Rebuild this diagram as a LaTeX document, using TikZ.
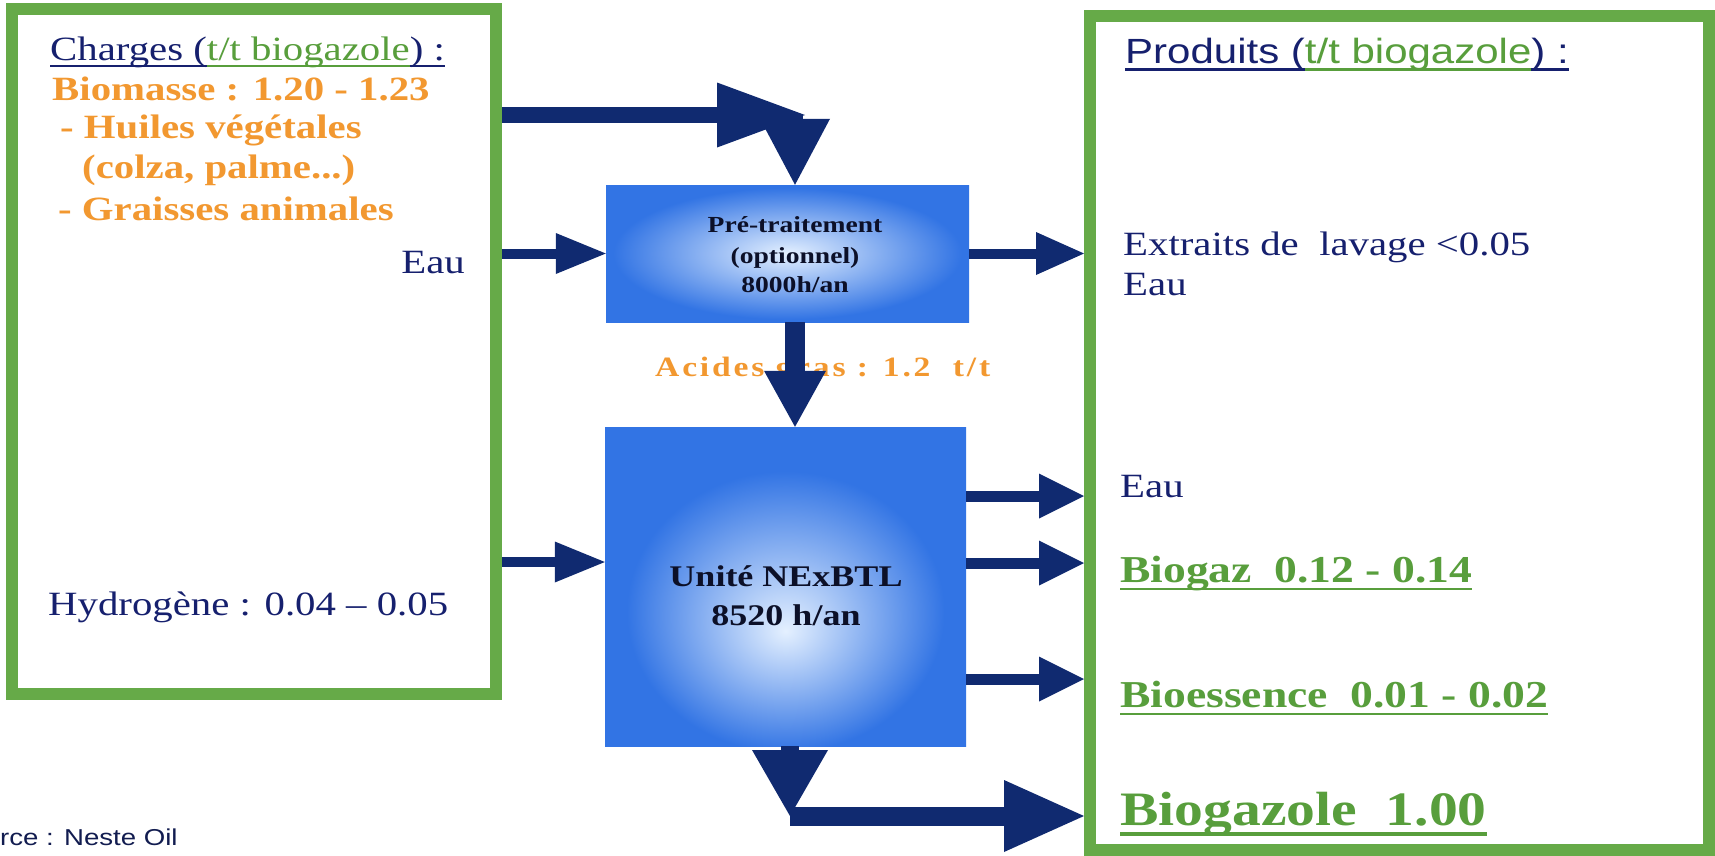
\documentclass[tikz,border=0pt]{standalone}
\usepackage{fontspec}
\setmainfont{Liberation Serif}[FakeStretch=1.2]
\setsansfont{Liberation Sans}[FakeStretch=1.2]
\newfontfamily\spacedfont{Liberation Serif}[FakeStretch=1.2,LetterSpace=10]
\usepackage{tikz}
\usetikzlibrary{
  arrows.meta,
  calc,
  positioning}

\definecolor{framegreen}{RGB}{102,170,72}
\definecolor{textgreen}{RGB}{88,158,60}
\definecolor{textnavy}{RGB}{22,32,110}
\definecolor{sourcenavy}{RGB}{18,28,80}
\definecolor{textorange}{RGB}{242,152,48}
\definecolor{arrowblue}{RGB}{16,42,112}
\definecolor{boxblue}{RGB}{50,116,228}
\definecolor{boxlight}{RGB}{228,240,255}
\definecolor{boxtext}{RGB}{12,16,40}

\pgfdeclareradialshading{preglow}{\pgfpoint{0bp}{0bp}}{color(0bp)=(boxlight); color(24bp)=(boxblue); color(50bp)=(boxblue)}
\pgfdeclareradialshading{nexglow}{\pgfpoint{0bp}{-7bp}}{color(0bp)=(boxlight); color(22bp)=(boxblue); color(50bp)=(boxblue)}

\newcommand{\ulc}[1]{\sbox0{#1}\rlap{\rule[-0.22em]{\wd0}{0.07em}}\usebox0}

\begin{document}
\begin{tikzpicture}[x=1pt,y=-1pt,
    greenframe/.style={draw=framegreen,line width=12pt,fill=white,inner sep=0pt},
    procbox/.style={inner sep=0pt,shading=#1},
    lbl/.style={anchor=base west,inner sep=0pt},
    boxlabel/.style={anchor=base,inner sep=0pt,text=boxtext},
    navytext/.style={text=textnavy,font=\fontsize{34}{40}\selectfont},
    orangebold/.style={text=textorange,font=\bfseries\fontsize{34}{40}\selectfont},
    greenbold/.style={text=textgreen,font=\bfseries\fontsize{38}{46}\selectfont},
    flowarrow/.style args={#1/#2/#3}{draw=arrowblue,line width=#1,
      -{Triangle[length=#2,width=#3,line width=0pt]}}]

\fill[white] (0,0) rectangle (1715,855);
\useasboundingbox (0,0) rectangle (1715,855);

% cadres
\node[greenframe,minimum width=484pt,minimum height=685pt] (lbox) at (254,351.5) {};
\node[greenframe,minimum width=619pt,minimum height=834pt] (rbox) at (1399.5,433) {};

% unites
\node[procbox=preglow,minimum width=363pt,minimum height=137pt] (pre) at (787.5,253.5) {};
\node[procbox=nexglow,minimum width=361pt,minimum height=319pt] (nex) at (785.5,586.5) {};

\node[boxlabel,font=\bfseries\fontsize{23}{30}\selectfont] (pretitle) at (795,232) {Pré-traitement};
\node[boxlabel,font=\bfseries\fontsize{23}{30}\selectfont] (preopt) at (795,263) {(optionnel)};
\node[boxlabel,font=\bfseries\fontsize{23}{30}\selectfont] (prehours) at (795,292) {8000h/an};
\node[boxlabel,font=\bfseries\fontsize{30}{39}\selectfont] (nextitle) at (786,586) {Unité NExBTL};
\node[boxlabel,font=\bfseries\fontsize{30}{39}\selectfont] (nexhours) at (786,625) {8520 h/an};

% charges
\node[lbl,navytext] (chargeshead) at (50,60)
  {\ulc{Charges (}\textcolor{textgreen}{\ulc{t/t biogazole}}\ulc{) :}};
\node[lbl,orangebold] (biomass) at (52,100) {Biomasse : 1.20 - 1.23};
\node[lbl,orangebold] (huiles) at (60,138) {- Huiles végétales};
\node[lbl,orangebold] (colza) at (82,178) {(colza, palme...)};
\node[lbl,orangebold] (graisses) at (58,220) {- Graisses animales};
\node[anchor=base east,inner sep=0pt,navytext] (eauin) at (465,273) {Eau};
\node[lbl,navytext] (hydrogen) at (48,615) {Hydrogène : 0.04 – 0.05};

\node[lbl,text=textorange,font=\spacedfont\bfseries\fontsize{28}{32}\selectfont] (acides) at (655,376) {Acides gras : 1.2\ \ t/t};

% produits
\node[lbl,text=textnavy,font=\sffamily\fontsize{35}{42}\selectfont] (produitshead) at (1125,63)
  {\ulc{Produits (}\textcolor{textgreen}{\ulc{t/t biogazole}}\ulc{) :}};
\node[lbl,navytext] (extraits) at (1123,255) {Extraits de\ \ lavage <0.05};
\node[lbl,navytext] (eauwash) at (1123,295) {Eau};
\node[lbl,navytext] (eauout) at (1120,497) {Eau};
\node[lbl,greenbold] (biogaz) at (1120,582) {\ulc{Biogaz\ \ 0.12 - 0.14}};
\node[lbl,greenbold] (bioessence) at (1120,707) {\ulc{Bioessence\ \ 0.01 - 0.02}};
\node[lbl,greenbold,font=\bfseries\fontsize{48}{56}\selectfont] (biogazole) at (1120,825) {\ulc{Biogazole\ \ 1.00}};

\node[lbl,text=sourcenavy,font=\sffamily\fontsize{23}{28}\selectfont] (source) at (0,845) {rce : Neste Oil};

% fleches
\coordinate (biotip) at (805,115);
\coordinate (biobend) at (795,115);
\coordinate (h2in) at (0,562);
\coordinate (gazbend) at (790,816);

\draw[flowarrow=16pt/88pt/65pt] (lbox.east |- biotip) -- (biotip);
\draw[flowarrow=16pt/66pt/70pt] (biobend) -- (biobend |- pre.north);
\draw[flowarrow=10pt/50pt/41pt] (lbox.east |- pre.west) -- (pre.west);
\draw[flowarrow=10pt/48pt/43pt] (pre.east) -- (rbox.west |- pre.east);
\draw[flowarrow=20pt/56pt/62pt] (pre.south -| biobend) -- (nex.north -| biobend);
\draw[flowarrow=10pt/50pt/41pt] (lbox.east |- h2in) -- (nex.west |- h2in);
\foreach \y [count=\i] in {496,563,679}{
  \coordinate (out\i) at (0,\y);
  \draw[flowarrow=11pt/45pt/45pt] (nex.east |- out\i) -- (rbox.west |- out\i);
}
\draw[flowarrow=18pt/66pt/76pt] (nex.south -| gazbend) -- (gazbend);
\draw[flowarrow=19pt/80pt/72pt] (gazbend) -- (rbox.west |- gazbend);

\end{tikzpicture}
\end{document}
